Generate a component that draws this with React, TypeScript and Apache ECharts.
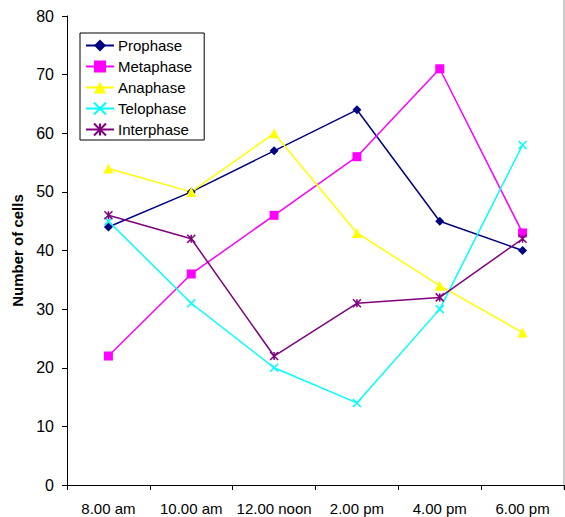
import React, { useEffect, useRef } from "react";
import * as echarts from "echarts";

const categories = ["8.00 am", "10.00 am", "12.00 noon", "2.00 pm", "4.00 pm", "6.00 pm"];
const prophase = [44, 50, 57, 64, 45, 40];
const metaphase = [22, 36, 46, 56, 71, 43];
const anaphase = [54, 50, 60, 43, 34, 26];
const telophase = [45, 31, 20, 14, 30, 58];
const interphase = [46, 42, 22, 31, 32, 42];

const FONT = "Liberation Sans, Arial, sans-serif";

export default function App() {
  const ref = useRef<HTMLDivElement>(null);
  useEffect(() => {
    const chart = echarts.init(ref.current!, null, { renderer: "svg" });
    const mk = (name: string, data: number[], color: string, symbol: string, size: number, stroked = false) => ({
      name,
      type: "line",
      data,
      symbol,
      symbolSize: size,
      showSymbol: true,
      lineStyle: { color, width: 1.5 },
      itemStyle: stroked
        ? { color: "rgba(0,0,0,0)", borderColor: color, borderWidth: 1.5 }
        : { color, borderWidth: 0 },
      emphasis: { disabled: true },
    });
    chart.setOption({
      animation: false,
      backgroundColor: "#fff",
      grid: { left: 67, top: 16, right: 1, bottom: 32 },
      legend: {
        orient: "vertical",
        left: 80,
        top: 33,
        borderColor: "#000",
        borderWidth: 1,
        backgroundColor: "#fff",
        padding: [5, 12, 3, 5],
        itemGap: 6,
        itemWidth: 28,
        itemHeight: 15,
        textStyle: { fontSize: 15, color: "#000", fontFamily: FONT, padding: [0, 0, 0, -1] },
        data: ["Prophase", "Metaphase", "Anaphase", "Telophase", "Interphase"],
      },
      xAxis: {
        type: "category",
        data: categories,
        boundaryGap: true,
        axisLine: { lineStyle: { color: "#000", width: 1 } },
        axisTick: { show: true, length: 5, lineStyle: { color: "#000" } },
        axisLabel: { fontSize: 15, color: "#000", fontFamily: FONT, margin: 16, interval: 0 },
        splitLine: { show: false },
      },
      yAxis: {
        type: "value",
        min: 0,
        max: 80,
        interval: 10,
        name: "Number of cells",
        nameLocation: "middle",
        nameGap: 42,
        nameTextStyle: { fontSize: 15, fontWeight: "bold", color: "#000", fontFamily: FONT },
        axisLine: { show: true, lineStyle: { color: "#000", width: 1 } },
        axisTick: { show: true, length: 5, lineStyle: { color: "#000" } },
        axisLabel: { fontSize: 16, color: "#000", fontFamily: FONT, margin: 13 },
        splitLine: { show: false },
      },
      graphic: [
        {
          type: "line",
          shape: { x1: 564, y1: 0, x2: 564, y2: 490 },
          style: { stroke: "#999", lineWidth: 1 },
        },
      ],
      series: [
        mk("Prophase", prophase, "#000080", "diamond", 9),
        mk("Metaphase", metaphase, "#FF00FF", "rect", 9),
        mk("Anaphase", anaphase, "#FFFF00", "triangle", 10),
        mk("Telophase", telophase, "#00FFFF", "path://M0,0L10,10M10,0L0,10", 8, true),
        mk("Interphase", interphase, "#800080", "path://M0,0L10,10M10,0L0,10M5,0L5,10", 8, true),
      ],
    });
    return () => chart.dispose();
  }, []);
  return (
    <div
      ref={ref}
      style={{ position: "fixed", left: 0, top: 0, width: 565, height: 517, background: "#fff" }}
    />
  );
}
